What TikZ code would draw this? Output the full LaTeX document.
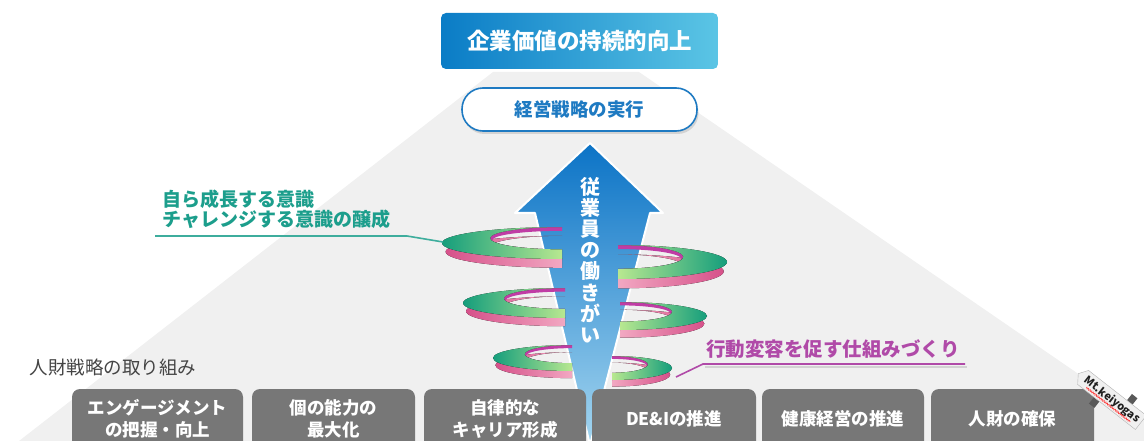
\documentclass[tikz,border=0pt]{standalone}
\usepackage{fontspec}
\setmainfont{Noto Sans CJK JP}
\usetikzlibrary{shadows,shapes.symbols,decorations.pathmorphing}

\definecolor{pyrgray}{HTML}{F0F0F0}
\definecolor{topL}{HTML}{0A7CC6}
\definecolor{topR}{HTML}{5BC5E5}
\definecolor{stratblue}{HTML}{1E7AC2}
\definecolor{arrowTop}{HTML}{0B73C6}
\definecolor{arrowBot}{HTML}{A4D6F0}
\definecolor{tealtext}{HTML}{1C9E8C}
\definecolor{magtext}{HTML}{B04AA8}
\definecolor{hrbox}{HTML}{777777}
\definecolor{hrtext}{HTML}{444444}
\definecolor{gDark}{HTML}{159E7C}
\definecolor{gLight}{HTML}{B8E890}
\definecolor{pDark}{HTML}{D6518A}
\definecolor{pLight}{HTML}{F2A8C2}
\definecolor{magarc}{HTML}{C03CA5}

% half of a ring: filled crescent between an outer and an inner half ellipse
% #1 style, #2 cx, #3 cy, #4 rx (signed), #5 ry, #6 inner rx, #7 inner cy, #8 inner ry
\newcommand{\crescent}[8]{%
  \fill[#1] ({(#2)},{(#3)-(#5)})
    .. controls ({(#2)+0.5523*(#4)},{(#3)-(#5)}) and ({(#2)+(#4)},{(#3)-0.5523*(#5)}) .. ({(#2)+(#4)},{(#3)})
    .. controls ({(#2)+(#4)},{(#3)+0.5523*(#5)}) and ({(#2)+0.5523*(#4)},{(#3)+(#5)}) .. ({(#2)},{(#3)+(#5)})
    -- ({(#2)},{(#7)+(#8)})
    .. controls ({(#2)+0.5523*(#6)},{(#7)+(#8)}) and ({(#2)+(#6)},{(#7)+0.5523*(#8)}) .. ({(#2)+(#6)},{(#7)})
    .. controls ({(#2)+(#6)},{(#7)-0.5523*(#8)}) and ({(#2)+0.5523*(#6)},{(#7)-(#8)}) .. ({(#2)},{(#7)-(#8)})
    -- cycle;}

% one side of a spiral ring: pink underside, magenta back edge, green top band
% #1 cx, #2 cy, #3 rx (signed), #4 ry, #5 side (L or R)
\newcommand{\ringside}[5]{%
  \crescent{pink#5}{#1}{(#2)+0.55*(#4)}{0.97*(#3)}{#4}{0.6*(#3)}{(#2)+0.55*(#4)-0.3*(#4)}{0.7*(#4)}
  \crescent{magarc}{#1}{(#2)-0.3*(#4)}{0.6*(#3)}{0.7*(#4)}{0.58*(#3)}{(#2)-0.18*(#4)}{0.58*(#4)}
  \crescent{green#5}{#1}{#2}{#3}{#4}{0.6*(#3)}{(#2)-0.3*(#4)}{0.7*(#4)}}

\tikzset{
  greenL/.style={left color=gDark, right color=gLight},
  greenR/.style={left color=gLight, right color=gDark},
  pinkL/.style={left color=pDark, right color=pLight},
  pinkR/.style={left color=pLight, right color=pDark},
  topbox/.style={rounded corners=5pt, left color=topL, right color=topR,
    minimum width=277pt, minimum height=56pt, text=white,
    font=\bfseries\fontsize{22.5}{24}\selectfont},
  stratbox/.style={rounded corners=21pt, draw=stratblue, line width=1.6pt, fill=white,
    minimum width=235pt, minimum height=43pt, text=stratblue,
    font=\bfseries\fontsize{18.5}{20}\selectfont,
    drop shadow={shadow xshift=1.5pt, shadow yshift=-3pt, opacity=0.25}},
  arrowtxt/.style={text=white, align=center, font=\bfseries\fontsize{20}{21.2}\selectfont},
  tealtxt/.style={text=tealtext, align=left, font=\bfseries\fontsize{19}{20.5}\selectfont},
  magtxt/.style={text=magtext, font=\bfseries\fontsize{19.5}{21}\selectfont},
  tealline/.style={draw=tealtext!85, line width=1.6pt},
  magline/.style={draw=magtext, line width=1.6pt},
  hrlabel/.style={text=hrtext, font=\fontsize{18.5}{20}\selectfont},
  hrcard/.style={fill=hrbox, rounded corners=8pt, text=white, align=center,
    minimum height=60pt, font=\bfseries\fontsize{17.5}{22}\selectfont},
}

\begin{document}
\begin{tikzpicture}[x=1pt, y=-1pt]
\useasboundingbox (0,0) rectangle (1144,441);
\clip (0,0) rectangle (1144,441);

% pyramid background
\fill[pyrgray] (19,441) -- (493,72) -- (639,72) -- (1176,441) -- cycle;

% heading boxes
\node[topbox] (goal) at (579.5,41) {企業価値の持続的向上};
\node[stratbox] (strat) at (579.5,109.5) {経営戦略の実行};

% big upward arrow
\path[draw=white, line width=2pt, line join=round, top color=arrowTop, bottom color=arrowBot]
  (590,143) -- (663,213) -- (650,213) -- (590,445) -- (535,213) -- (515,213) -- cycle;

% spiral rings around the arrow
\ringside{562}{243}{-120}{16}{L}
\ringside{618}{262}{109}{17}{R}
\ringside{565}{303}{-102}{15}{L}
\ringside{620}{316}{87}{14}{R}
\ringside{572}{358}{-79}{13}{L}
\ringside{612}{368}{60}{12}{R}

\node[arrowtxt] (work) at (590,260) {従\\業\\員\\の\\働\\き\\が\\い};

% teal callout
\node[tealtxt, anchor=north west] (grow) at (159,186) {自ら成長する意識\\チャレンジする意識の醸成};
\coordinate (tl0) at (155,236);
\coordinate (tl1) at (407,236);
\coordinate (t1) at (443,242);
\draw[tealline] (tl0) -- (tl1) -- (t1);

% magenta callout
\node[magtxt] (habit) at (833,349) {行動変容を促す仕組みづくり};
\coordinate (ml0) at (965,364);
\coordinate (ml1) at (703,364);
\coordinate (m1) at (676,377);
\draw[draw=black, opacity=0.12, line width=2pt] (967,367) -- (705,367);
\draw[magline] (ml0) -- (ml1) -- (m1);

% HR strategy initiatives
\node[hrlabel, anchor=west] (hr) at (26,367) {人財戦略の取り組み};
\node[hrcard, minimum width=171pt] (c1) at (157.5,419) {エンゲージメント\\の把握・向上};
\node[hrcard, minimum width=163pt] (c2) at (333.5,419) {個の能力の\\最大化};
\node[hrcard, minimum width=162pt] (c3) at (505,419) {自律的な\\キャリア形成};
\node[hrcard, minimum width=164pt] (c4) at (674,419) {DE\&Iの推進};
\node[hrcard, minimum width=162pt] (c5) at (843,419) {健康経営の推進};
\node[hrcard, minimum width=163pt] (c6) at (1012.5,419) {人財の確保};

% signpost logo
\begin{scope}[rotate around={-38:(1112,400)}]
  \fill[gray!70!black] (1124,383) rectangle (1131,391);
  \fill[gray!70!black] (1096,409) rectangle (1103,417);
  \node[signal, signal to=west, signal pointer angle=110, draw=gray!60, fill=gray!12,
    inner xsep=3pt, inner ysep=3pt, text=gray!25!black, transform shape,
    font=\bfseries\fontsize{11}{11}\selectfont] (logo) at (1112,400) {Mt.keiyogas};
  \draw[red!75, line width=0.6pt, decorate,
    decoration={zigzag, amplitude=0.8pt, segment length=2pt}] (1084,406) -- (1140,406);
\end{scope}
\end{tikzpicture}
\end{document}
